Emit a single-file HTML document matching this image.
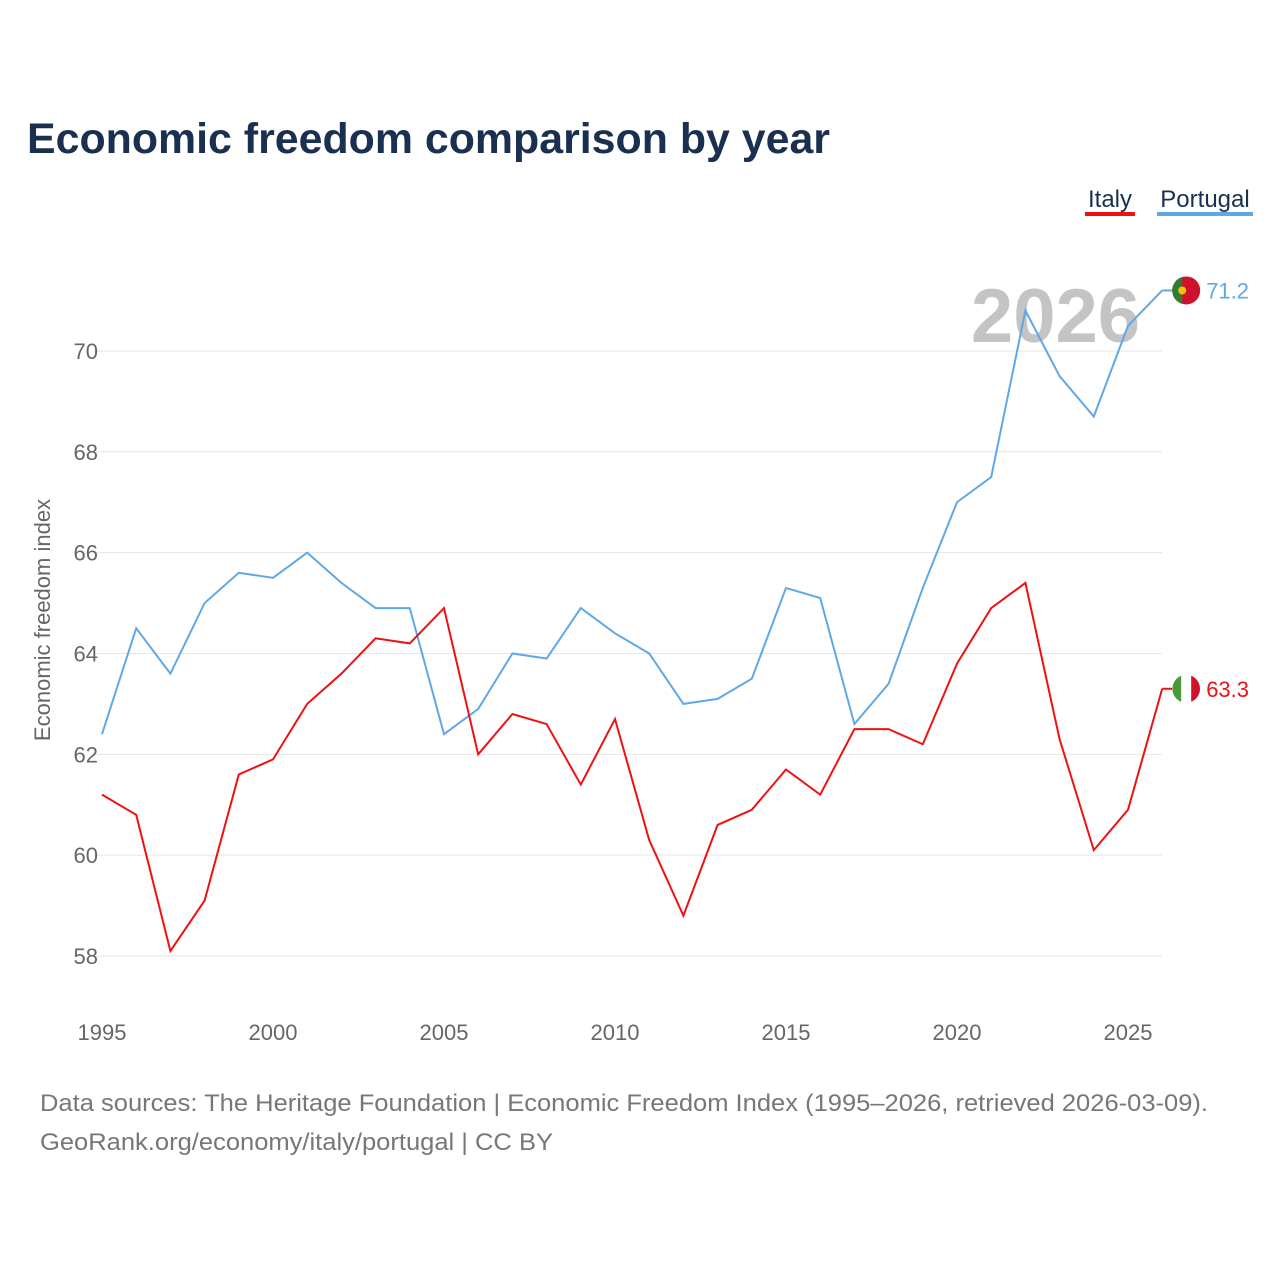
<!DOCTYPE html>
<html><head><meta charset="utf-8">
<style>
body{margin:0;background:#fff;width:1280px;height:1280px;overflow:hidden;font-family:"Liberation Sans",sans-serif;}
</style></head>
<body>
<svg id="chart" width="1280" height="1280" xmlns="http://www.w3.org/2000/svg" font-family="Liberation Sans, sans-serif">
<text x="27" y="153" font-size="43" font-weight="bold" fill="#1a3050" textLength="803" lengthAdjust="spacingAndGlyphs">Economic freedom comparison by year</text>
<g>
<text x="1110" y="207" font-size="24" fill="#1a3050" text-anchor="middle">Italy</text>
<rect x="1085" y="212" width="50" height="4" fill="#ee1111"/>
<text x="1205" y="207" font-size="24" fill="#1a3050" text-anchor="middle">Portugal</text>
<rect x="1157" y="212" width="96" height="4" fill="#5fa8e8"/>
</g>
<text x="1140" y="342" font-size="76" font-weight="bold" fill="#c4c4c4" text-anchor="end">2026</text>
<g id="grid"></g><g id="xt"></g><g id="series"></g>
<text transform="translate(50,620) rotate(-90)" font-size="22" fill="#666" text-anchor="middle">Economic freedom index</text>
<text x="40" y="1111" font-size="24" fill="#777" textLength="1168" lengthAdjust="spacingAndGlyphs">Data sources: The Heritage Foundation | Economic Freedom Index (1995–2026, retrieved 2026-03-09).</text>
<text x="40" y="1150" font-size="24" fill="#777" textLength="513" lengthAdjust="spacingAndGlyphs">GeoRank.org/economy/italy/portugal | CC BY</text>
</svg>
<script>
const years=[];for(let y=1995;y<=2026;y++)years.push(y);
const portugal=[62.4,64.5,63.6,65.0,65.6,65.5,66.0,65.4,64.9,64.9,62.4,62.9,64.0,63.9,64.9,64.4,64.0,63.0,63.1,63.5,65.3,65.1,62.6,63.4,65.3,67.0,67.5,70.8,69.5,68.7,70.5,71.2];
const italy=[61.2,60.8,58.1,59.1,61.6,61.9,63.0,63.6,64.3,64.2,64.9,62.0,62.8,62.6,61.4,62.7,60.3,58.8,60.6,60.9,61.7,61.2,62.5,62.5,62.2,63.8,64.9,65.4,62.3,60.1,60.9,63.3];
const yTicks=[58,60,62,64,66,68,70];
const xTicks=[1995,2000,2005,2010,2015,2020,2025];
const NS="http://www.w3.org/2000/svg";
const X=y=>102+(y-1995)*34.2;
const Y=v=>956-(v-58)*50.42;
function mk(tag,attrs,parent){const e=document.createElementNS(NS,tag);for(const k in attrs)e.setAttribute(k,attrs[k]);parent.appendChild(e);return e;}
const grid=document.getElementById('grid');
yTicks.forEach(t=>{
 const l=mk('line',{x1:95,x2:1162,y1:Y(t),y2:Y(t),stroke:'#e6e6e6','stroke-width':1},grid);
 
 
 const tx=mk('text',{x:98,y:Y(t)+8,'font-size':22,fill:'#666','text-anchor':'end'},grid);tx.textContent=t;
 
 
});
const xt=document.getElementById('xt');
xTicks.forEach(t=>{
 const tx=mk('text',{x:X(t),y:1040,'font-size':22,fill:'#666','text-anchor':'middle'},xt);tx.textContent=t;
 
 
});
const s=document.getElementById('series');
function line(vals,color,name){
 const p=mk('polyline',{points:vals.map((v,i)=>X(years[i])+','+Y(v)).join(' '),fill:'none',stroke:color,'stroke-width':2},s);
 
 
 const last=vals[vals.length-1],lx=X(years[years.length-1]),ly=Y(last);
 const cn=mk('line',{x1:lx,x2:lx+10,y1:ly,y2:ly,stroke:color,'stroke-width':2},s);
 
 
 const c=mk('circle',{cx:lx+24,cy:ly,r:14,fill:name==='italy'?'#fff':'#d0112b'},s);
 
 
 if(name==='italy'){
  const a=mk('path',{d:`M${lx+19},${ly-13} A14 14 0 0 0 ${lx+19},${ly+13} Z`,fill:'#4a9a3a'},s);
  
  const b=mk('path',{d:`M${lx+29},${ly-13} A14 14 0 0 1 ${lx+29},${ly+13} Z`,fill:'#d0112b'},s);
  
 }else{
  const a=mk('path',{d:`M${lx+20},${ly-13.4} A14 14 0 0 0 ${lx+20},${ly+13.4} Z`,fill:'#2e7d32'},s);
  
  const b=mk('circle',{cx:lx+20,cy:ly,r:4,fill:'#f2c200'},s);
  
 }
 const t=mk('text',{x:lx+44,y:ly+8,'font-size':22,fill:color},s);t.textContent=last.toFixed(1);
 
 
}
line(portugal,'#5fa8e8','portugal');
line(italy,'#ee1111','italy');
</script>
</body></html>
